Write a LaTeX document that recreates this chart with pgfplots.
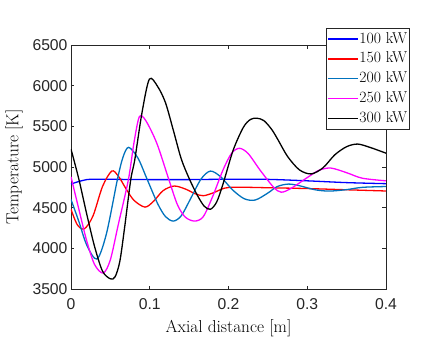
\documentclass[border=0pt]{standalone}
\usepackage{fontspec}
\setsansfont{Liberation Sans}
\usepackage{pgfplots}
\pgfplotsset{compat=1.18}
\definecolor{mlblue}{rgb}{0,0,1}
\definecolor{mlred}{rgb}{1,0,0}
\definecolor{mlteal}{rgb}{0,0.447,0.741}
\definecolor{mlmag}{rgb}{1,0,1}
\definecolor{mlblack}{rgb}{0,0,0}
\definecolor{axgray}{rgb}{0.15,0.15,0.15}

\begin{document}
\begin{tikzpicture}
\useasboundingbox (0,0) rectangle (432pt,360pt);
\begin{axis}[
    at={(71pt,71pt)}, anchor=south west,
    scale only axis, width=315pt, height=244pt,
    xmin=0, xmax=0.4, ymin=3500, ymax=6500,
    xtick={0,0.1,0.2,0.3,0.4},
    xticklabels={0,0.1,0.2,0.3,0.4},
    ytick={3500,4000,4500,5000,5500,6000,6500},
    yticklabels={3500,4000,4500,5000,5500,6000,6500},
    tick label style={font=\fontsize{15.7}{18}\selectfont\sffamily, text=axgray},
    xticklabel style={yshift=-6.5pt},
    tick align=inside, major tick length=3.5pt,
    tick style={axgray, line width=0.8pt},
    axis line style={axgray, line width=0.8pt},
    xlabel={Axial distance [m]},
    ylabel={Temperature [K]},
    label style={font=\fontsize{17.3}{20}\selectfont},
    xlabel style={at={(axis description cs:0.5,-0.123)}, anchor=north, inner sep=0pt},
    ylabel style={at={(axis description cs:-0.1524,0.5)}, anchor=south, inner sep=0pt, rotate=0},
    legend cell align=left,
    legend style={at={(axis description cs:0.8095,1.0697)}, anchor=north west,
        draw=axgray, fill=white, inner sep=1pt,
        font=\fontsize{15.7}{18}\selectfont,
        nodes={inner xsep=1pt, inner ysep=2.9pt, text height=11pt, text depth=3pt}},
    legend image code/.code={\draw[#1, line width=1.3pt] (0pt,0pt) -- (30pt,0pt);},
]
% 100 kW
\addplot[mlblue, line width=1.3pt, smooth] coordinates {
(0,4790) (0.01,4822) (0.02,4845) (0.03,4850) (0.06,4848) (0.1,4845) (0.15,4845)
(0.2,4850) (0.25,4848) (0.3,4830) (0.35,4808) (0.4,4795)};
\addlegendentry{100 kW}
% 150 kW
\addplot[mlred, line width=1.3pt, smooth] coordinates {
(0,4480) (0.008,4290) (0.017,4240) (0.028,4400) (0.04,4760) (0.0517,4950)
(0.06,4890) (0.07,4730) (0.08,4590) (0.094,4507) (0.105,4580) (0.117,4710)
(0.131,4766) (0.145,4730) (0.158,4670) (0.168,4647) (0.18,4680) (0.195,4740)
(0.21,4752) (0.25,4745) (0.3,4735) (0.35,4720) (0.4,4705)};
\addlegendentry{150 kW}
% 200 kW
\addplot[mlteal, line width=1.3pt, smooth] coordinates {
(0,4600) (0.01,4330) (0.02,4040) (0.033,3868) (0.045,4180) (0.0588,4840)
(0.066,5120) (0.0732,5242) (0.085,5110) (0.096,4865) (0.11,4550) (0.12,4390)
(0.13,4335) (0.14,4400) (0.151,4594) (0.165,4850) (0.177,4950) (0.19,4880)
(0.205,4720) (0.22,4610) (0.234,4594) (0.25,4680) (0.262,4760) (0.276,4790)
(0.29,4770) (0.31,4720) (0.328,4704) (0.35,4722) (0.37,4750) (0.4,4760)};
\addlegendentry{200 kW}
% 250 kW
\addplot[mlmag, line width=1.3pt, smooth] coordinates {
(0,4880) (0.01,4480) (0.02,4090) (0.03,3800) (0.041,3696) (0.05,3860)
(0.06,4290) (0.0728,4840) (0.08,5300) (0.0868,5618) (0.095,5570) (0.109,5291)
(0.1236,4865) (0.135,4540) (0.145,4385) (0.157,4335) (0.168,4390) (0.18,4640)
(0.193,4963) (0.204,5170) (0.214,5230) (0.225,5165) (0.24,4963) (0.257,4754)
(0.267,4690) (0.28,4740) (0.3,4870) (0.315,4960) (0.33,4987) (0.35,4930)
(0.37,4862) (0.4,4830)};
\addlegendentry{250 kW}
% 300 kW
\addplot[mlblack, line width=1.3pt, smooth] coordinates {
(0,5220) (0.01,4850) (0.02,4420) (0.03,4020) (0.04,3720) (0.05,3625)
(0.056,3650) (0.062,3840) (0.068,4250) (0.0758,4840) (0.081,5090) (0.09,5660)
(0.0995,6080) (0.11,5990) (0.12,5790) (0.13,5450) (0.14,5100) (0.15,4860)
(0.16,4660) (0.169,4520) (0.177,4480) (0.185,4570) (0.193,4790) (0.206,5209)
(0.219,5490) (0.228,5585) (0.236,5600) (0.245,5570) (0.255,5460) (0.263,5332)
(0.275,5130) (0.29,4965) (0.305,4915) (0.32,4990) (0.335,5150) (0.35,5250)
(0.364,5282) (0.38,5240) (0.4,5170)};
\addlegendentry{300 kW}
\end{axis}
\end{tikzpicture}
\end{document}
